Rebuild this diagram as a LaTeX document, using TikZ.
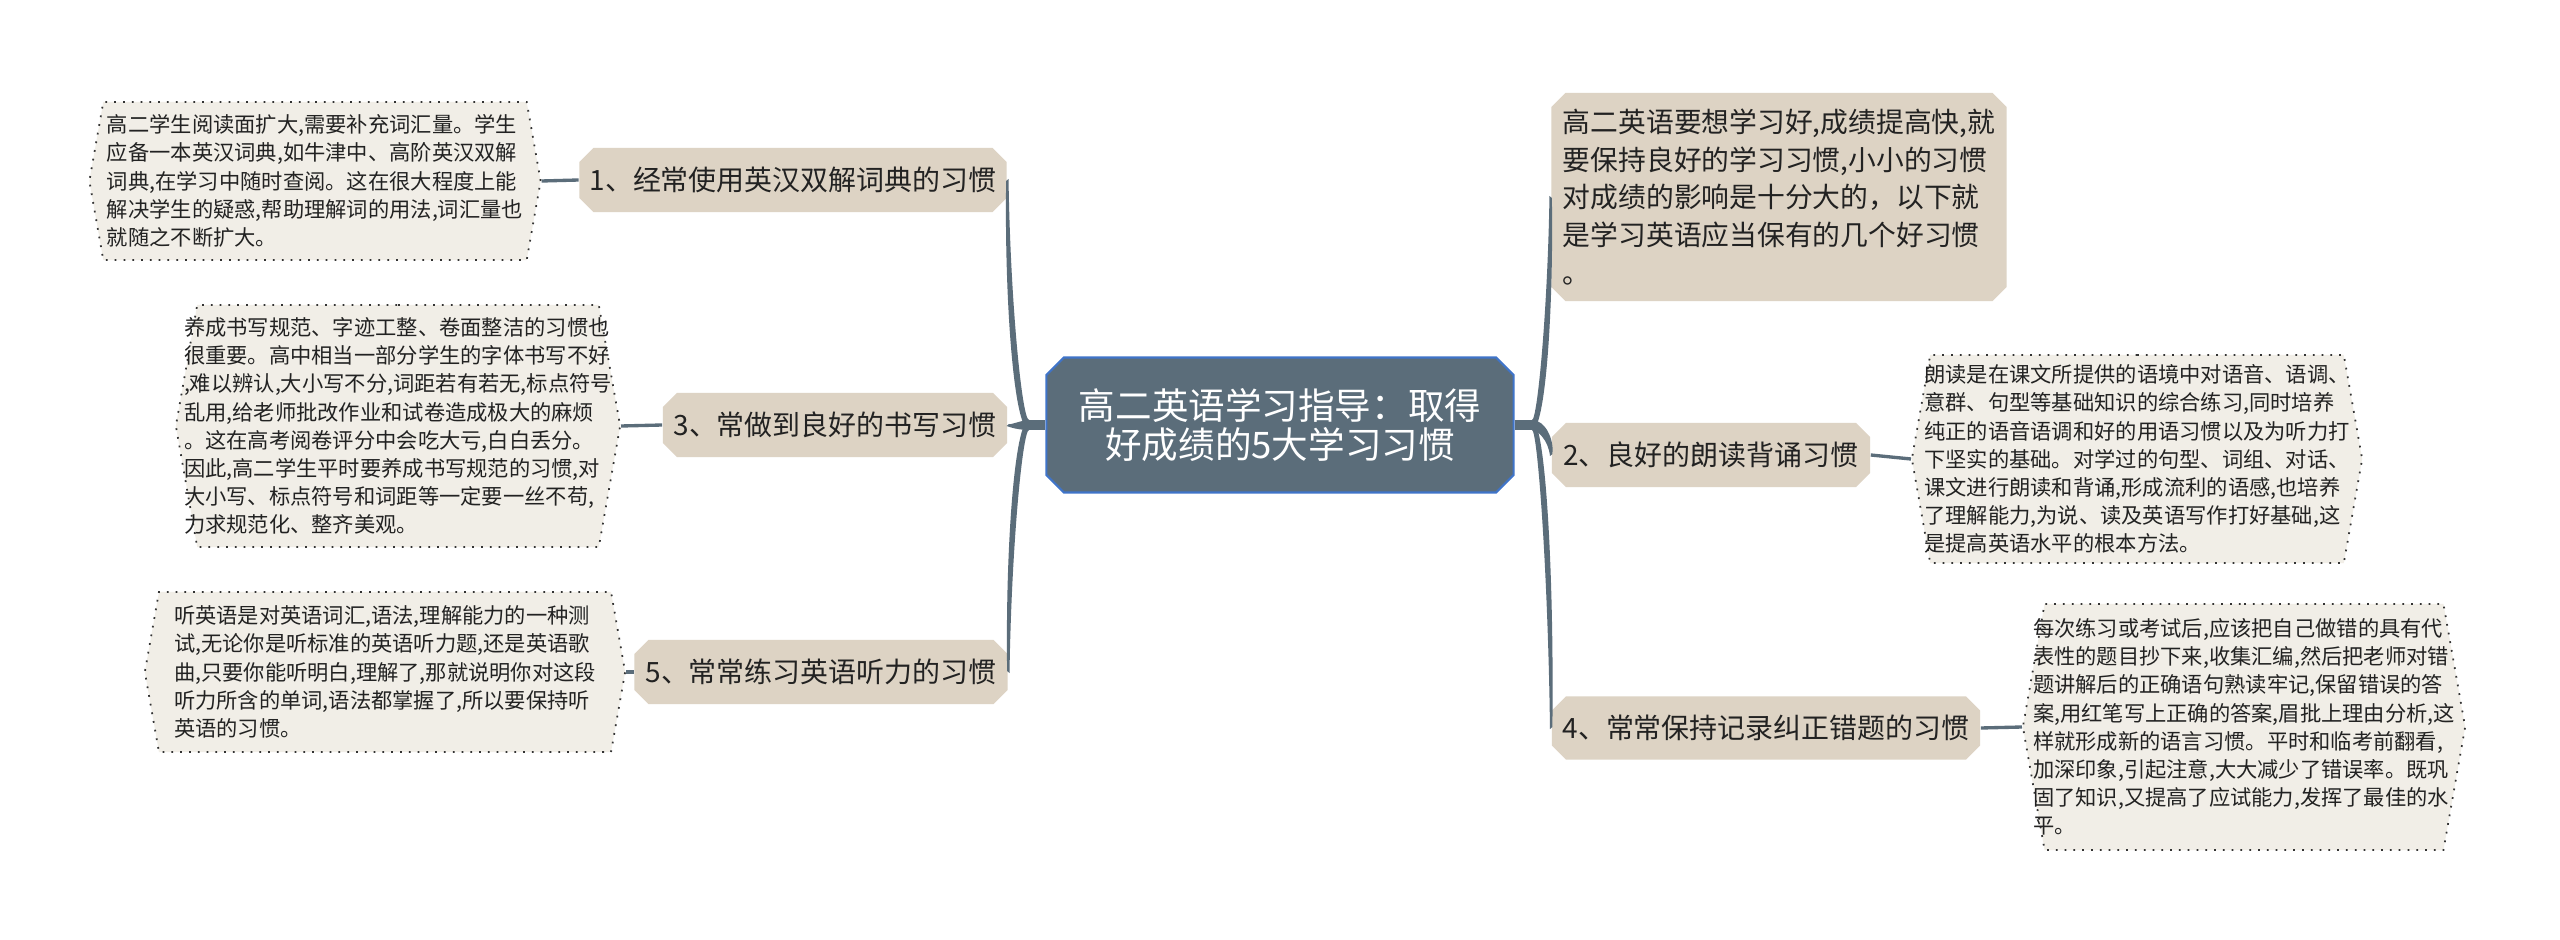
\documentclass[tikz,border=0pt]{standalone}
\usepackage{fontspec}
\newfontfamily\cjk{Noto Sans CJK SC}
\usetikzlibrary{calc,shapes.misc,shapes.symbols}
\definecolor{slate}{HTML}{5B6D7A}
\definecolor{hubblue}{HTML}{3F74C9}
\definecolor{sand}{HTML}{DDD3C4}
\definecolor{paper}{HTML}{F1EEE7}
\definecolor{inkline}{HTML}{333333}
\definecolor{ink}{HTML}{222222}
\tikzset{
    corenode/.style={chamfered rectangle,chamfered rectangle sep=2.5pt,fill=slate,draw=hubblue,line width=0.6pt,text=white,align=center,inner sep=0pt,font=\cjk\fontsize{10.4}{10.9}\selectfont},
    habitnode/.style={chamfered rectangle,chamfered rectangle sep=2pt,fill=sand,text=ink,inner xsep=-3pt,inner ysep=0pt,font=\cjk\fontsize{7.95}{10}\selectfont},
    introbox/.style={habitnode,inner xsep=0pt,align=left,font=\cjk\fontsize{7.9}{10.7}\selectfont},
    notebox/.style={signal,signal to=east and west,signal pointer angle=160,fill=paper,draw=inkline,dotted,line width=0.5pt,text=ink,align=left,inner xsep=-4pt,inner ysep=0pt,font=\cjk\fontsize{6.05}{8}\selectfont},
    twig/.style={draw=slate,line width=0.95pt}
}
% tapered limb: from hub #1 to node anchor #2, #3 = side the top edge ends on
\newcommand{\limb}[3]{%
  \fill[slate] ($(#1)+(0,-5)$)
    .. controls ($(#1)!.5!(#2|-#1)+(4*#3,-5)$) and ($(#2)!.5!(#2|-#1)+(3*#3,0)$)
    .. ($(#2)+(1.2*#3,-1)$)
    -- ($(#2)+(-1.2*#3,1)$)
    .. controls ($(#2)!.5!(#2|-#1)+(-3*#3,0)$) and ($(#1)!.5!(#2|-#1)+(-4*#3,5)$)
    .. ($(#1)+(0,5)$) -- cycle;}

\begin{document}
\begin{tikzpicture}[x=0.01cm,y=-0.01cm]
  \fill[white] (0,0) rectangle (2560,940);
  \useasboundingbox (0,0) rectangle (2560,940);

  % centre
  \node[corenode,minimum width=4.67cm,minimum height=1.35cm] (core) at (1280,425)
    {高二英语学习指导：取得\\好成绩的5大学习习惯};

  % left habits
  \node[habitnode,minimum width=4.27cm,minimum height=0.64cm] (h1) at (793,180) {1、经常使用英汉双解词典的习惯};
  \node[habitnode,minimum width=3.44cm,minimum height=0.64cm] (h3) at (835,425) {3、常做到良好的书写习惯};
  \node[habitnode,minimum width=3.73cm,minimum height=0.64cm] (h5) at (821,672) {5、常常练习英语听力的习惯};

  % right habits
  \node[introbox,minimum width=4.55cm,minimum height=2.08cm] (intro) at (1779,197)
    {高二英语要想学习好,成绩提高快,就\\要保持良好的学习习惯,小小的习惯\\对成绩的影响是十分大的，以下就\\是学习英语应当保有的几个好习惯\\。};
  \node[habitnode,minimum width=3.18cm,minimum height=0.64cm] (h2) at (1711,455) {2、良好的朗读背诵习惯};
  \node[habitnode,minimum width=4.28cm,minimum height=0.63cm] (h4) at (1766,728) {4、常常保持记录纠正错题的习惯};

  % notes
  \node[notebox,minimum width=4.51cm,minimum height=1.58cm] (n1) at (315,181)
    {高二学生阅读面扩大,需要补充词汇量。学生\\应备一本英汉词典,如牛津中、高阶英汉双解\\词典,在学习中随时查阅。这在很大程度上能\\解决学生的疑惑,帮助理解词的用法,词汇量也\\就随之不断扩大。};
  \node[notebox,minimum width=4.44cm,minimum height=2.42cm] (n3) at (398,426)
    {养成书写规范、字迹工整、卷面整洁的习惯也\\很重要。高中相当一部分学生的字体书写不好\\,难以辨认,大小写不分,词距若有若无,标点符号\\乱用,给老师批改作业和试卷造成极大的麻烦\\。这在高考阅卷评分中会吃大亏,白白丢分。\\因此,高二学生平时要养成书写规范的习惯,对\\大小写、标点符号和词距等一定要一丝不苟,\\力求规范化、整齐美观。};
  \node[notebox,minimum width=4.8cm,minimum height=1.6cm] (n5) at (385,672)
    {听英语是对英语词汇,语法,理解能力的一种测\\试,无论你是听标准的英语听力题,还是英语歌\\曲,只要你能听明白,理解了,那就说明你对这段\\听力所含的单词,语法都掌握了,所以要保持听\\英语的习惯。};
  \node[notebox,minimum width=4.5cm,minimum height=2.08cm] (n2) at (2137,459)
    {朗读是在课文所提供的语境中对语音、语调、\\意群、句型等基础知识的综合练习,同时培养\\纯正的语音语调和好的用语习惯以及为听力打\\下坚实的基础。对学过的句型、词组、对话、\\课文进行朗读和背诵,形成流利的语感,也培养\\了理解能力,为说、读及英语写作打好基础,这\\是提高英语水平的根本方法。};
  \node[notebox,minimum width=4.42cm,minimum height=2.46cm] (n4) at (2244,727)
    {每次练习或考试后,应该把自己做错的具有代\\表性的题目抄下来,收集汇编,然后把老师对错\\题讲解后的正确语句熟读牢记,保留错误的答\\案,用红笔写上正确的答案,眉批上理由分析,这\\样就形成新的语言习惯。平时和临考前翻看,\\加深印象,引起注意,大大减少了错误率。既巩\\固了知识,又提高了应试能力,发挥了最佳的水\\平。};

  % limbs
  \coordinate (lhub) at (1029,425);
  \coordinate (rhub) at (1532,425);
  \draw[slate,line width=2.8pt] (core.west) -- (lhub);
  \draw[slate,line width=2.8pt] (core.east) -- (rhub);
  \limb{lhub}{h1.east}{1}
  \limb{lhub}{h3.east}{1}
  \limb{lhub}{h5.east}{-1}
  \limb{rhub}{intro.west}{-1}
  \limb{rhub}{h2.west}{1}
  \limb{rhub}{h4.west}{1}

  \draw[twig] (h1.west) -- (n1.east);
  \draw[twig] (h3.west) -- (n3.east);
  \draw[twig] (h5.west) -- (n5.east);
  \draw[twig] (h2.east) -- (n2.west);
  \draw[twig] (h4.east) -- (n4.west);
\end{tikzpicture}
\end{document}
